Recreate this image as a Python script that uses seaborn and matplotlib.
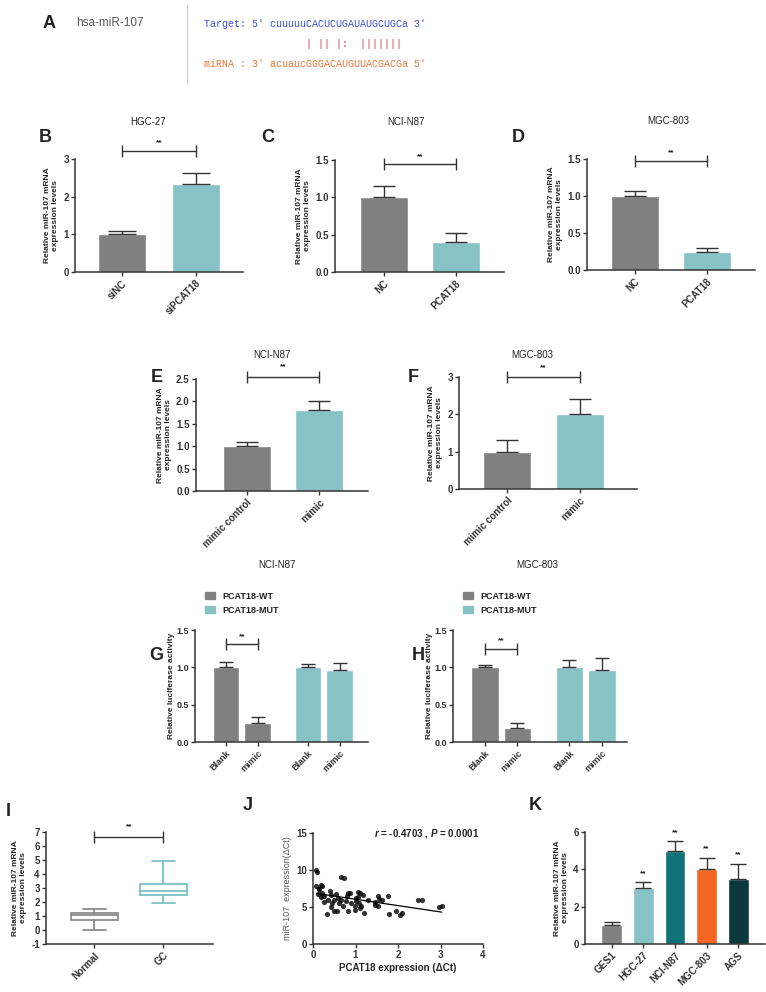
import numpy as np
import pandas as pd
import matplotlib.pyplot as plt
import seaborn as sns
from matplotlib.lines import Line2D
from matplotlib.patches import Patch

W, H = 766, 992

# ---- data ----
GRAY = '#808080'
TEAL = '#86c2c6'

b_cats = ['siNC', 'siPCAT18']
b_means = [1.0, 2.33]
b_err = [0.1, 0.3]

c_cats = ['NC', 'PCAT18']
c_means = [1.0, 0.4]
c_err = [0.15, 0.12]

d_cats = ['NC', 'PCAT18']
d_means = [1.0, 0.25]
d_err = [0.065, 0.05]

e_cats = ['mimic control', 'mimic']
e_means = [1.0, 1.8]
e_err = [0.1, 0.2]

f_cats = ['mimic control', 'mimic']
f_means = [1.0, 2.0]
f_err = [0.3, 0.4]

luc_labels = ['Blank', 'mimic', 'Blank', 'mimic']
luc_group = ['PCAT18-WT', 'PCAT18-WT', 'PCAT18-MUT', 'PCAT18-MUT']
luc_pos = [0, 1, 2.6, 3.6]
g_means = [1.0, 0.25, 1.0, 0.96]
g_err = [0.07, 0.08, 0.05, 0.095]
h_means = [1.0, 0.19, 1.0, 0.97]
h_err = [0.03, 0.07, 0.1, 0.155]

i_labels = ['Normal', 'GC']
i_whislo = [0.0, 1.96]
i_q1 = [0.73, 2.48]
i_med = [1.04, 2.79]
i_q3 = [1.25, 3.28]
i_whishi = [1.49, 4.94]

j_x = [0.08, 0.09, 0.08, 0.18, 0.15, 0.20, 0.18, 0.25, 0.27, 0.33, 0.40, 0.43,
       0.44, 0.43, 0.50, 0.57, 0.55, 0.59, 0.65, 0.73, 0.65, 0.70, 0.77, 0.80,
       0.83, 0.88, 0.83, 0.98, 0.98, 1.02, 1.05, 1.06, 1.10, 1.08, 1.10, 1.14,
       1.20, 1.30, 1.45, 1.47, 1.52, 1.56, 1.54, 1.62, 1.76, 1.78, 1.96, 2.04,
       2.09, 2.48, 2.56, 2.97, 3.03, 0.13, 0.22, 0.36, 0.62, 0.90, 1.00, 1.18,
       0.50, 0.12]
j_y = [10.0, 9.7, 7.9, 8.0, 7.4, 6.9, 6.3, 6.5, 5.7, 4.1, 7.1, 6.6,
       5.5, 5.0, 4.5, 4.5, 6.7, 6.2, 9.1, 8.9, 5.9, 5.1, 5.8, 6.5,
       6.9, 6.9, 4.4, 5.1, 4.6, 5.8, 6.4, 7.0, 6.9, 5.5, 4.8, 5.2,
       4.2, 5.9, 5.3, 5.7, 6.5, 6.1, 5.1, 5.9, 6.5, 4.1, 4.5, 3.9,
       4.2, 5.9, 5.9, 5.0, 5.2, 7.5, 7.8, 6.0, 5.5, 5.5, 6.2, 6.6,
       5.9, 6.8]

k_cats = ['GES1', 'HGC-27', 'NCI-N87', 'MGC-803', 'AGS']
k_means = [1.0, 3.0, 5.0, 4.0, 3.5]
k_err = [0.2, 0.3, 0.5, 0.6, 0.8]
k_colors = [GRAY, TEAL, '#0f7378', '#f26522', '#0b383d']
k_sig = [False, True, True, True, True]

# ---- style ----
sns.set_style('ticks')
plt.rcParams['font.family'] = ['Liberation Sans', 'DejaVu Sans']
plt.rcParams['mathtext.fontset'] = 'custom'
plt.rcParams['mathtext.it'] = 'Liberation Sans:italic:bold'
plt.rcParams['mathtext.rm'] = 'Liberation Sans:bold'
plt.rcParams['axes.unicode_minus'] = False
plt.rcParams['axes.linewidth'] = 1.1
plt.rcParams['axes.edgecolor'] = '#333333'
plt.rcParams['xtick.color'] = '#333333'
plt.rcParams['ytick.color'] = '#333333'
plt.rcParams['text.color'] = '#222222'

fig = plt.figure(figsize=(W / 100, H / 100), dpi=100)

YLAB = 'Relative miR-107 mRNA\nexpression levels'


def px_axes(l, t, r, b):
    return fig.add_axes([l / W, 1 - b / H, (r - l) / W, (b - t) / H])


def fig_text(x, y, s, **kw):
    kw.setdefault('ha', 'center')
    kw.setdefault('va', 'center')
    fig.text(x / W, 1 - y / H, s, **kw)


def style(ax, size=7):
    sns.despine(ax=ax)
    ax.tick_params(length=3, width=1, labelsize=size, pad=1.5)
    for lab in ax.get_xticklabels() + ax.get_yticklabels():
        lab.set_fontweight('bold')


def half_err(ax, x, y, e, cap):
    ax.errorbar(x, y, yerr=[np.zeros(len(e)), e], fmt='none', ecolor='#333333',
                elinewidth=1, capsize=cap, capthick=1, zorder=3)


def sig(ax, x1, x2, y, ty):
    ax.plot([x1, x2], [y, y], color='#333333', lw=1, marker='|', ms=8, mew=1,
            clip_on=False)
    ax.text((x1 + x2) / 2, ty, '**', ha='center', va='center', fontsize=6,
            fontweight='bold', clip_on=False)


def rot_labels(ax, labels, pos=None):
    if pos is None:
        pos = range(len(labels))
    ax.set_xticks(list(pos))
    ax.set_xticklabels(labels, rotation=45, ha='right', rotation_mode='anchor')


def bar_panel(box, cats, means, errs, colors, ylim, yticks, xlim, width, cap):
    ax = px_axes(*box)
    sns.barplot(x=cats, y=means, hue=cats, palette=colors, legend=False,
                width=width, saturation=1, errorbar=None, ax=ax)
    half_err(ax, np.arange(len(cats)), means, errs, cap)
    ax.set_xlim(xlim)
    ax.set_ylim(ylim)
    ax.set_yticks(yticks)
    rot_labels(ax, cats)
    ax.set_xlabel('')
    ax.set_ylabel(YLAB, fontsize=6, fontweight='bold', labelpad=3)
    style(ax)
    return ax


# ---- panel A ----
fig_text(49, 23, 'A', fontsize=13, fontweight='bold')
fig_text(76, 23, 'hsa-miR-107', fontsize=8.5, color='#555555', ha='left')
fig.add_artist(Line2D([187 / W, 187 / W], [1 - 5 / H, 1 - 84 / H],
                      color='#d0d0d0', lw=0.8))
mono = dict(family='Liberation Mono', fontsize=7.2, ha='left')
fig_text(204, 24, "Target: 5' cuuuuuCACUCUGAUAUGCUGCa 3'", color='#3d4fd6', **mono)
fig_text(204, 44, ' ' * 17 + '| || |:  |||||||', color='#c8303c', **mono)
fig_text(204, 64, "miRNA : 3' acuaucGGGACAUGUUACGACGa 5'", color='#e8763a', **mono)

# ---- panels B, C, D ----
ax = bar_panel((75, 159, 243, 272), b_cats, b_means, b_err, [GRAY, TEAL],
               (0, 3), [0, 1, 2, 3], (-0.635, 1.635), 0.66, 10)
sig(ax, 0, 1, 3.21, 3.42)
fig_text(148, 122, 'HGC-27', fontsize=7)
fig_text(45, 138, 'B', fontsize=13, fontweight='bold')

ax = bar_panel((335, 160, 504, 272), c_cats, c_means, c_err, [GRAY, TEAL],
               (0, 1.5), [0, 0.5, 1.0, 1.5], (-0.68, 1.67), 0.67, 8)
sig(ax, 0, 1, 1.45, 1.55)
fig_text(406, 122, 'NCI-N87', fontsize=7)
fig_text(268, 138, 'C', fontsize=13, fontweight='bold')

ax = bar_panel((587, 159, 755, 270), d_cats, d_means, d_err, [GRAY, TEAL],
               (0, 1.5), [0, 0.5, 1.0, 1.5], (-0.667, 1.667), 0.67, 8)
sig(ax, 0, 1, 1.47, 1.585)
fig_text(668, 121, 'MGC-803', fontsize=7)
fig_text(518, 137, 'D', fontsize=13, fontweight='bold')

# ---- panels E, F ----
ax = bar_panel((196, 379, 368, 491), e_cats, e_means, e_err, [GRAY, TEAL],
               (0, 2.5), [0, 0.5, 1.0, 1.5, 2.0, 2.5], (-0.70, 1.67), 0.66, 8)
sig(ax, 0, 1, 2.55, 2.77)
fig_text(272, 355, 'NCI-N87', fontsize=7)
fig_text(157, 378, 'E', fontsize=13, fontweight='bold')

ax = bar_panel((459, 377, 637, 489), f_cats, f_means, f_err, [GRAY, TEAL],
               (0, 3), [0, 1, 2, 3], (-0.66, 1.79), 0.66, 8)
sig(ax, 0, 1, 3.0, 3.24)
fig_text(532, 355, 'MGC-803', fontsize=7)
fig_text(413, 378, 'F', fontsize=13, fontweight='bold')


# ---- panels G, H ----
def luc_panel(box, means, errs, xlim, sig_y, star_y, leg_xy):
    ax = px_axes(*box)
    df = pd.DataFrame({'pos': luc_pos, 'val': means, 'grp': luc_group})
    sns.barplot(data=df, x='pos', y='val', hue='grp', palette=[GRAY, TEAL],
                native_scale=True, dodge=False, width=0.84, saturation=1,
                errorbar=None, legend=False, ax=ax)
    half_err(ax, np.array(luc_pos), means, errs, 5)
    ax.set_xlim(xlim)
    ax.set_ylim(0, 1.5)
    ax.set_yticks([0, 0.5, 1.0, 1.5])
    rot_labels(ax, luc_labels, luc_pos)
    ax.set_xlabel('')
    ax.set_ylabel('Relative luciferase activity', fontsize=6, fontweight='bold',
                  labelpad=1)
    sig(ax, luc_pos[0], luc_pos[1], sig_y, star_y)
    style(ax, size=6.5)
    handles = [Patch(color=GRAY), Patch(color=TEAL)]
    ax.legend(handles, ['PCAT18-WT', 'PCAT18-MUT'], loc='upper left',
              bbox_to_anchor=(leg_xy[0] / W, 1 - leg_xy[1] / H),
              bbox_transform=fig.transFigure, frameon=False,
              prop={'weight': 'bold', 'size': 6.5}, handlelength=1.1,
              handleheight=0.8, handletextpad=0.8, labelspacing=0.55,
              borderpad=0, borderaxespad=0)
    return ax


luc_panel((195, 630, 368, 742), g_means, g_err, (-0.98, 4.5), 1.31, 1.41, (205, 592))
fig_text(277, 565, 'NCI-N87', fontsize=7)
fig_text(156, 656, 'G', fontsize=13, fontweight='bold')

luc_panel((453, 630, 627, 742), h_means, h_err, (-0.98, 4.37), 1.25, 1.36, (463, 592))
fig_text(418, 656, 'H', fontsize=13, fontweight='bold')
fig_text(537, 565, 'MGC-803', fontsize=7)

# ---- panel I ----
ax = px_axes(46, 832, 213, 944)
stats = [dict(label=l, whislo=a, q1=b, med=c, q3=d, whishi=e)
         for l, a, b, c, d, e in zip(i_labels, i_whislo, i_q1, i_med, i_q3, i_whishi)]
bp = ax.bxp(stats, positions=[0, 1], widths=0.68, showfliers=False,
            patch_artist=True, capwidths=0.34)
for k, col in enumerate(['#8c8c8c', '#7cc0c4']):
    bp['boxes'][k].set(facecolor='white', edgecolor=col, linewidth=1.3)
    bp['medians'][k].set(color=col, linewidth=1.3)
    for j in (2 * k, 2 * k + 1):
        bp['whiskers'][j].set(color=col, linewidth=1.3)
        bp['caps'][j].set(color=col, linewidth=1.3)
ax.set_xlim(-0.7, 1.72)
ax.set_ylim(-1, 7)
ax.set_yticks(range(-1, 8))
rot_labels(ax, i_labels, [0, 1])
ax.set_ylabel(YLAB, fontsize=6, fontweight='bold', labelpad=3)
sig(ax, 0, 1, 6.64, 7.36)
style(ax)
fig_text(8, 812, 'I', fontsize=13, fontweight='bold')

# ---- panel J ----
ax = px_axes(313, 833, 483, 944)
sns.regplot(x=j_x, y=j_y, ci=None, color='black', ax=ax,
            scatter_kws={'s': 14, 'linewidths': 0},
            line_kws={'lw': 0.9})
ax.set_xlim(0, 4)
ax.set_ylim(0, 15)
ax.set_xticks([0, 1, 2, 3, 4])
ax.set_yticks([0, 5, 10, 15])
ax.set_xlabel('PCAT18 expression (ΔCt)', fontsize=7, fontweight='bold', labelpad=2)
ax.set_ylabel('miR-107  expression(ΔCt)', fontsize=6.5, color='#555555', labelpad=3)
ax.text(3.9, 15, r'$\it{r}$ = -0.4703 , $\it{P}$ = 0.0001', ha='right',
        va='center', fontsize=7, fontweight='bold')
style(ax)
fig_text(248, 805, 'J', fontsize=13, fontweight='bold')

# ---- panel K ----
ax = bar_panel((585, 832, 765, 944), k_cats, k_means, k_err, k_colors,
               (0, 6), [0, 2, 4, 6], (-0.84, 4.84), 0.66, 6)
for x, (m, e, s) in enumerate(zip(k_means, k_err, k_sig)):
    if s:
        ax.text(x, m + e + 0.48, '**', ha='center', va='center', fontsize=6,
                fontweight='bold')
fig_text(535, 805, 'K', fontsize=13, fontweight='bold')

fig.savefig('out.png', dpi=100)
